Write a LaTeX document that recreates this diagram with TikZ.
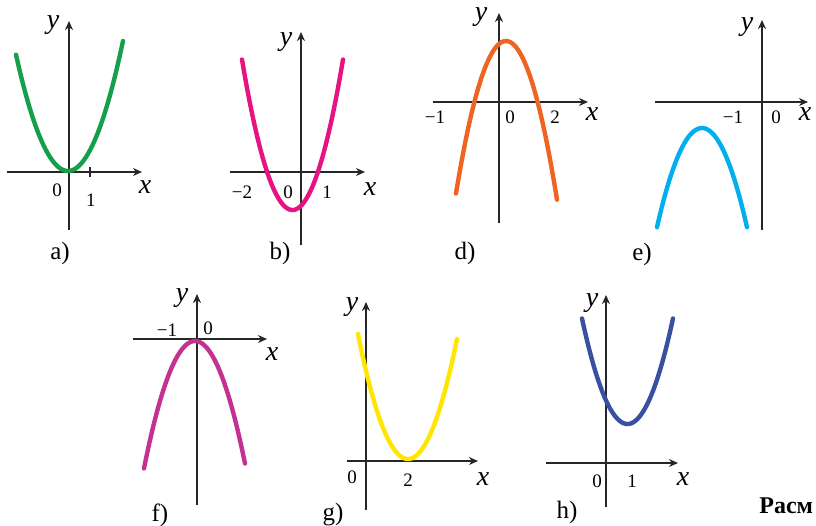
\documentclass[tikz,border=0pt]{standalone}
\usepackage{fontspec}
\setmainfont{Liberation Serif}
\usepackage{tikz}
\usetikzlibrary{arrows.meta}
\definecolor{grgreen}{RGB}{20,160,75}
\definecolor{pkmagenta}{RGB}{230,20,130}
\definecolor{ororange}{RGB}{240,100,35}
\definecolor{cycyan}{RGB}{0,175,235}
\definecolor{pupink}{RGB}{195,50,145}
\definecolor{yeyellow}{RGB}{255,230,0}
\definecolor{blblue}{RGB}{55,80,160}
\tikzset{
  axis/.style={line width=1pt, black!85, -{Stealth[length=4.5pt, width=4pt]}},
  parab/.style={line width=2.2pt, line cap=round, smooth, samples=60},
  axlbl/.style={font=\fontsize{14}{16}\selectfont\itshape, inner sep=0pt},
  numlbl/.style={font=\fontsize{9.5}{11}\selectfont, inner sep=0pt},
  panlbl/.style={font=\fontsize{12.5}{14}\selectfont, inner sep=0pt}
}
\newcommand{\drawaxes}[7]{% name, ox, oy, xleft, xright, ytop, ybottom
  \coordinate (#1_o) at (#2,#3);
  \draw[axis] (#4,#3) -- (#5,#3);
  \draw[axis] (#2,#7) -- (#2,#6);
}
\newcommand{\drawparab}[6]{% colour, vx, vy, k, xl, xr
  \draw[parab, #1] plot[domain=#5:#6] (\x, {#3 + #4*(\x-#2)*(\x-#2)});
}
\begin{document}
\begin{tikzpicture}[x=0.5pt, y=-0.5pt]
\useasboundingbox (0,0) rectangle (816,526);

% a) y = x^2
\drawaxes{pa}{69}{172}{7}{142}{21}{230}
\draw[line width=1pt, black!85] (90,167) -- (90,177);
\drawparab{grgreen}{68}{171}{-0.043}{16}{123}
\node[axlbl] (pa_y) at (53,25) {y};
\node[axlbl] (pa_x) at (145,187) {x};
\node[numlbl] (pa_0) at (57,190) {0};
\node[numlbl] (pa_1) at (91,200) {1};
\node[panlbl] (pa_lbl) at (60,253) {a)};

% b)
\drawaxes{pb}{301}{172}{230}{365}{32}{245}
\drawparab{pkmagenta}{292.5}{210}{-0.059}{242}{343}
\node[axlbl] (pb_y) at (286,42) {y};
\node[axlbl] (pb_x) at (370,189) {x};
\node[numlbl] (pb_m2) at (242,192) {−2};
\node[numlbl] (pb_0) at (288,192) {0};
\node[numlbl] (pb_1) at (327,192) {1};
\node[panlbl] (pb_lbl) at (280,253) {b)};

% d)
\drawaxes{pd}{499}{102}{433}{588}{13}{223}
\drawparab{ororange}{506}{41}{0.061}{456}{557}
\node[axlbl] (pd_y) at (481,17) {y};
\node[axlbl] (pd_x) at (592,114) {x};
\node[numlbl] (pd_m1) at (435,117) {−1};
\node[numlbl] (pd_0) at (510,117) {0};
\node[numlbl] (pd_2) at (555,117) {2};
\node[panlbl] (pd_lbl) at (465,253) {d)};

% e)
\drawaxes{pe}{762}{102}{655}{808}{20}{230}
\drawparab{cycyan}{702}{128}{0.049}{657}{747}
\node[axlbl] (pe_y) at (747,27) {y};
\node[axlbl] (pe_x) at (805,114) {x};
\node[numlbl] (pe_m1) at (733,117) {−1};
\node[numlbl] (pe_0) at (776,117) {0};
\node[panlbl] (pe_lbl) at (642,254) {e)};

% f)
\drawaxes{pf}{197}{339}{133}{267}{294}{505}
\drawparab{pupink}{195}{341}{0.049}{144}{245}
\node[axlbl] (pf_y) at (182,298) {y};
\node[axlbl] (pf_x) at (272,354) {x};
\node[numlbl] (pf_m1) at (167,330) {−1};
\node[numlbl] (pf_0) at (208,328) {0};
\node[panlbl] (pf_lbl) at (160,515) {f)};

% g)
\drawaxes{pg}{366}{461}{347}{478}{302}{510}
\drawparab{yeyellow}{408}{459}{-0.05}{358}{457}
\node[axlbl] (pg_y) at (352,307) {y};
\node[axlbl] (pg_x) at (483,479) {x};
\node[numlbl] (pg_0) at (352,477) {0};
\node[numlbl] (pg_2) at (408,480) {2};
\node[panlbl] (pg_lbl) at (333,515) {g)};

% h)
\drawaxes{ph}{606}{463}{546}{678}{295}{507}
\drawparab{blblue}{627.5}{424}{-0.051}{582}{673}
\node[axlbl] (ph_y) at (592,303) {y};
\node[axlbl] (ph_x) at (683,479) {x};
\node[numlbl] (ph_0) at (597,481) {0};
\node[numlbl] (ph_1) at (632,481) {1};
\node[panlbl] (ph_lbl) at (567,512) {h)};

% caption
\node[font=\fontsize{12}{14}\selectfont\bfseries, inner sep=0pt, anchor=west] (cap) at (759,506) {Расм};
\end{tikzpicture}
\end{document}
